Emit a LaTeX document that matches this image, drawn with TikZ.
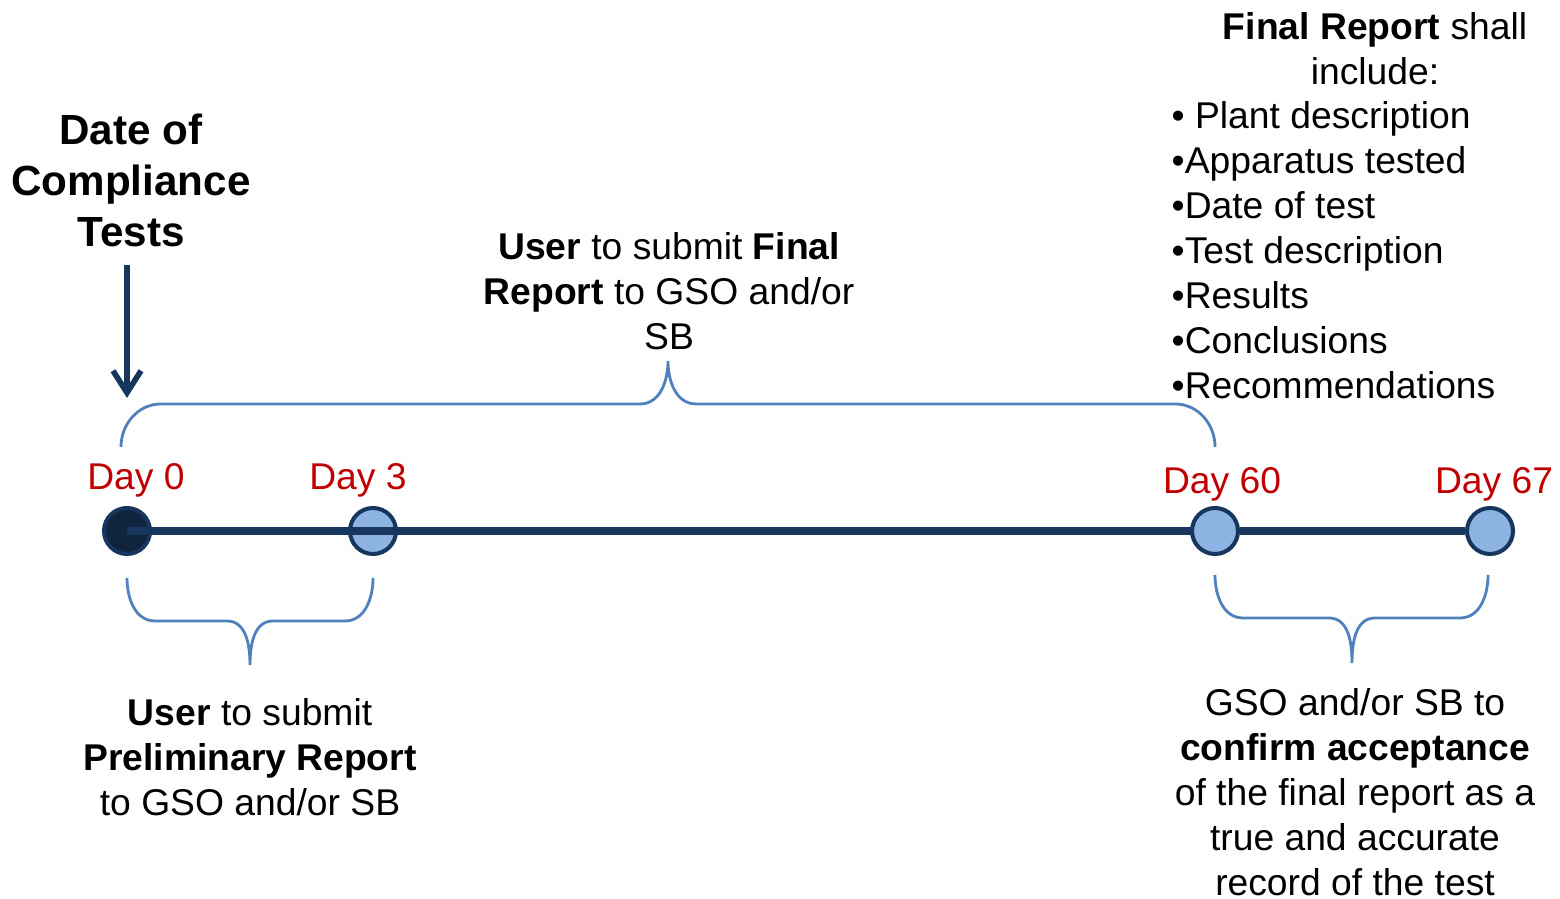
\documentclass[tikz,border=0pt]{standalone}
\usepackage{fontspec}
\setmainfont{Liberation Sans}
\usetikzlibrary{arrows.meta, positioning, calc}
\definecolor{navy}{HTML}{17365D}
\definecolor{darkdot}{HTML}{10243E}
\definecolor{lightdot}{HTML}{8DB3E2}
\definecolor{bracecol}{HTML}{4F81BD}
\definecolor{dayred}{HTML}{C00000}

\begin{document}
\begin{tikzpicture}[
    txt/.style={align=center, font=\fontsize{10.6}{12.8}\selectfont, inner sep=0pt},
    daylabel/.style={font=\fontsize{10.6}{12.8}\selectfont, text=dayred, inner sep=0pt},
    milestone/.style={circle, draw=navy, line width=1.15pt, minimum size=0.46cm, inner sep=0pt, fill=lightdot},
    timeline/.style={navy, line width=2pt},
    bracket/.style={bracecol, line width=0.8pt},
    arrow/.style={-{Straight Barb[length=2.2mm, width=2.8mm]}, navy, line width=1.6pt}
]
    \useasboundingbox (0,0) rectangle (15.6,8.99);

    % Title and pointer
    \node[font=\fontsize{12}{14.5}\selectfont\bfseries, align=center, inner sep=0pt] (title) at (1.31,7.19) {Date of\\Compliance\\Tests};
    \coordinate (a0) at (1.27,6.34);
    \coordinate (a1) at (1.27,5.01);
    \draw[arrow] (a0) -- (a1);

    % Timeline
    \coordinate (p0) at (1.27,3.68);
    \coordinate (p60) at (12.15,3.68);
    \node[milestone, fill=darkdot] (d0) at (p0) {};
    \node[milestone] (d3) at (3.73,3.68) {};
    \draw[timeline] (p0) -- (p60);
    \node[milestone] (d60) at (p60) {};
    \node[milestone] (d67) at (14.90,3.68) {};
    \draw[timeline] (d60) -- (d67);

    % Day labels
    \node[daylabel] (day0) at (1.36,4.19) {Day 0};
    \node[daylabel] (day3) at (3.58,4.19) {Day 3};
    \node[daylabel] (day60) at (12.22,4.15) {Day 60};
    \node[daylabel] (day67) at (14.94,4.15) {Day 67};

    % Final report brace
    \coordinate (t0) at (1.21,4.52);
    \coordinate (t60) at (12.15,4.52);
    \coordinate (ttip) at (6.68,5.38);
    \draw[bracket] (t0) to[out=90,in=180] ++(0.4,0.43) -- ($(ttip)+(-0.28,-0.43)$)
        to[out=0,in=-90] (ttip) to[out=-90,in=180] ++(0.28,-0.43)
        -- ($(t60)+(-0.4,0.43)$) to[out=0,in=90] (t60);
    \node[txt] (finalsub) at (6.69,6.08) {\textbf{User} to submit \textbf{Final}\\\textbf{Report} to GSO and/or\\SB};

    % Report contents
    \node[txt] (include) at (13.75,8.50) {\textbf{Final Report} shall\\include:};
    \node[txt, align=left, anchor=west] (items) at (11.71,6.49) {• Plant description\\•Apparatus tested\\•Date of test\\•Test description\\•Results\\•Conclusions\\•Recommendations};

    % Preliminary report brace
    \coordinate (b0) at (1.27,3.21);
    \coordinate (b3) at (3.73,3.21);
    \coordinate (btip) at (2.50,2.34);
    \draw[bracket] (b0) to[out=-90,in=180] ++(0.28,-0.43) -- ($(btip)+(-0.23,0.44)$)
        to[out=0,in=90] (btip) to[out=90,in=180] ++(0.23,0.44)
        -- ($(b3)+(-0.28,-0.43)$) to[out=0,in=-90] (b3);
    \node[txt] (prelim) at (2.50,1.42) {\textbf{User} to submit\\\textbf{Preliminary Report}\\to GSO and/or SB};

    % Acceptance brace
    \coordinate (b60) at (12.15,3.24);
    \coordinate (b67) at (14.88,3.24);
    \coordinate (atip) at (13.52,2.36);
    \draw[bracket] (b60) to[out=-90,in=180] ++(0.28,-0.43) -- ($(atip)+(-0.23,0.45)$)
        to[out=0,in=90] (atip) to[out=90,in=180] ++(0.23,0.45)
        -- ($(b67)+(-0.28,-0.43)$) to[out=0,in=-90] (b67);
    \node[txt] (accept) at (13.55,1.07) {GSO and/or SB to\\\textbf{confirm acceptance}\\of the final report as a\\true and accurate\\record of the test};
\end{tikzpicture}
\end{document}
